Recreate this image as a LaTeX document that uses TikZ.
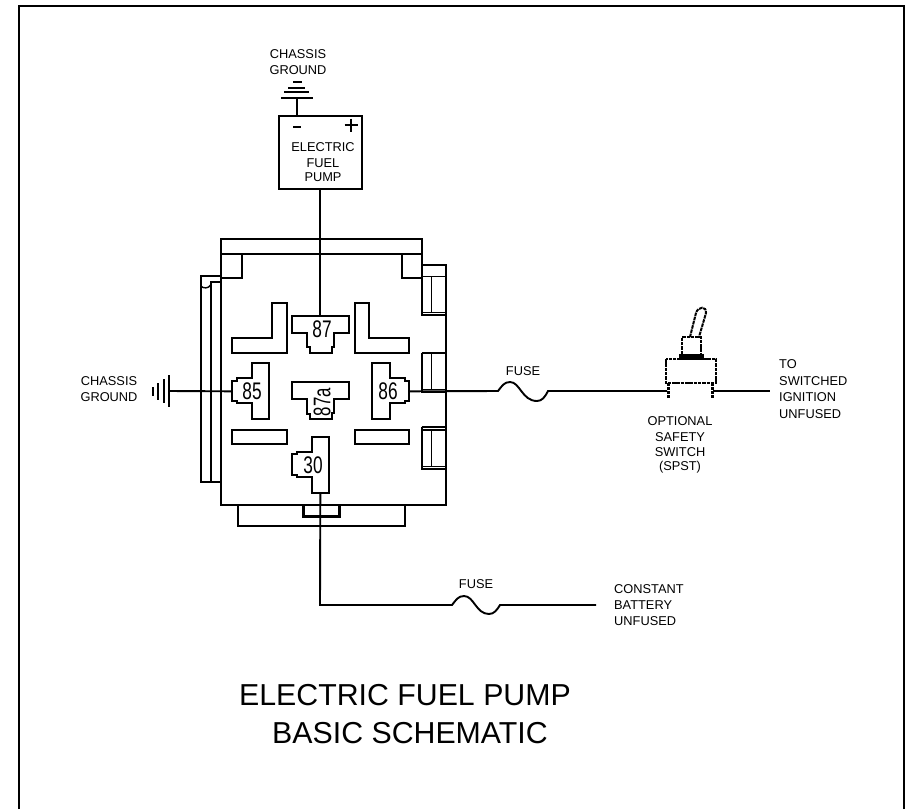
\documentclass[tikz,border=0pt]{standalone}
\usepackage{fontspec}
\setmainfont{Liberation Sans}
\tikzset{
  x=1pt,y=-1pt,
  wire/.style={draw=black,line width=1.9pt},
  outline/.style={draw=black,line width=1.7pt,line join=miter},
  thin line/.style={draw=black,line width=1.4pt},
  swline/.style={draw=black,line width=2pt,dash pattern=on 3.5pt off 0.8pt},
  swpin/.style={draw=black,line width=3.6pt,dash pattern=on 3pt off 1pt},
  label/.style={inner sep=0pt,font=\fontsize{12.8}{12.8}\selectfont,align=center},
  pinlabel/.style={inner sep=0pt,font=\fontsize{24}{24}\selectfont,xscale=0.72,transform shape},
  titletext/.style={inner sep=0pt,font=\fontsize{30.3}{30.3}\selectfont},
  pumpbox/.style={draw=black,line width=2pt,minimum width=83pt,minimum height=73pt,inner sep=0pt}
}
\begin{document}
\begin{tikzpicture}[x=1pt,y=-1pt]
\useasboundingbox (0,0) rectangle (909,809);
% frame
\draw[line width=2.6pt] (19,809) -- (19,6);
\draw[line width=2.6pt] (904,809) -- (904,6);
\draw[line width=1.9pt] (18,6) -- (905,6);

% pump
\node[pumpbox] (pump) at (320.5,152.5) {};
\node[label] (tpump1) at (323,147) {ELECTRIC};
\node[label] (tpump2) at (323,163) {FUEL};
\node[label] (tpump3) at (323,177) {PUMP};
\draw[line width=2.8pt] (293,127) -- (301,127);
\draw[line width=1.9pt] (344.5,125) -- (357.5,125) (351,118.5) -- (351,131.5);
% top ground
\node[label] (tcg1) at (298,54) {CHASSIS};
\node[label] (tcg2) at (298,70) {GROUND};
\coordinate (g1) at (297,98);
\draw[wire] (g1) -- (g1 |- pump.north);
\draw[thin line] (281,98) -- (313,98) (284,92) -- (309,92) (288,88) -- (305,88);
\draw[line width=1.9pt] (293,82) -- (302,82);

% relay housing, in the coordinates of a 3x crop
\begin{scope}[shift={(190,230)},xscale=1/3,yscale=1/3]
\draw[outline] (94,73) rectangle (695,27);
\draw[outline] (94,73) -- (94,824) -- (768,824) -- (768,105) -- (695,105) -- (695,73);
\draw[outline] (155,73) -- (155,145) -- (94,145);
\draw[outline] (635,73) -- (635,145) -- (695,145);
% right tabs
\draw[outline] (695,105) -- (695,255) -- (768,255);
\draw[thin line] (695,140) -- (768,140) (725,140) -- (725,248) (695,248) -- (768,248);
\draw[outline] (695,368) -- (768,368) (695,368) -- (695,485) -- (768,485);
\draw[thin line] (725,368) -- (725,478) (695,478) -- (768,478);
\draw[outline] (695,592) -- (768,592) (695,592) -- (695,718) -- (768,718);
\draw[thin line] (695,600) -- (768,600) (725,600) -- (725,710) (695,710) -- (768,710);
% left rail
\draw[outline] (94,138) -- (32,138) -- (32,755) -- (94,755);
\draw[outline] (94,155) -- (62,155) -- (62,755);
\draw[thin line] (32,168) .. controls (40,176) and (55,176) .. (62,165);
% bottom
\draw[outline] (144,824) -- (144,887) -- (646,887) -- (646,824);
\draw[line width=2.6pt] (340,824) -- (340,860) -- (449,860) -- (449,824);
% blades
\draw[outline] (125,325) -- (245,325) -- (245,218) -- (290,218) -- (290,368) -- (125,368) -- cycle;
\draw[outline] (494,218) -- (538,218) -- (538,325) -- (658,325) -- (658,368) -- (494,368) -- cycle;
\draw[outline] (125,600) rectangle (290,643);
\draw[outline] (494,600) rectangle (658,643);
\draw[outline] (307,257) -- (476,257) -- (476,308) -- (432,308) -- (432,350) -- (425,350) -- (425,368) -- (360,368) -- (360,352) -- (352,352) -- (352,308) -- (307,308) -- cycle;
\draw[outline] (307,457) -- (476,457) -- (476,508) -- (432,508) -- (432,550) -- (425,550) -- (425,568) -- (360,568) -- (360,552) -- (352,552) -- (352,508) -- (307,508) -- cycle;
\draw[outline] (185,400) -- (237,400) -- (237,568) -- (185,568) -- (185,520) -- (140,520) -- (140,514) -- (125,514) -- (125,452) -- (140,452) -- (140,445) -- (185,445) -- cycle;
\draw[outline] (547,400) -- (599,400) -- (599,445) -- (645,445) -- (645,452) -- (658,452) -- (658,514) -- (645,514) -- (645,520) -- (599,520) -- (599,568) -- (547,568) -- cycle;
\draw[outline] (365,622) -- (418,622) -- (418,790) -- (365,790) -- (365,742) -- (320,742) -- (320,736) -- (306,736) -- (306,672) -- (320,672) -- (320,665) -- (365,665) -- cycle;
\coordinate (pin87) at (391,257);
\coordinate (pin85) at (125,484);
\coordinate (pin86) at (658,484);
\coordinate (pin30) at (391,790);
\end{scope}
\node[pinlabel] (l87) at (322,329) {87};
\node[pinlabel] (l85) at (252,391.5) {85};
\node[pinlabel] (l86) at (388,391.5) {86};
\node[pinlabel] (l30) at (313,465) {30};
\node[pinlabel,xscale=1/0.72,yscale=0.7,rotate=90] (l87a) at (322,402) {87a};

% wires
\coordinate (g2) at (169,391);
\draw[wire] (g2) -- (pin85);
\draw[wire] (pump.south -| pin87) -- (pin87);
\draw[thin line] (169,375) -- (169,407) (164,379) -- (164,403) (158,383) -- (158,400);
\draw[line width=1.9pt] (153,387) -- (153,396);
\node[label] (tcg3) at (109,381) {CHASSIS};
\node[label] (tcg4) at (109,397) {GROUND};

% fuse 1 and switch
\coordinate (f1a) at (498,391);
\coordinate (f1b) at (548,391);
\coordinate (swl) at (667,391);
\coordinate (swr) at (713,391);
\coordinate (end1) at (770,391);
\draw[wire] (pin86) -- (f1a) .. controls (502,386) and (504,382) .. (510,382)
  .. controls (520,382) and (522,401) .. (537,401) .. controls (542,401) and (545,397) .. (f1b) -- (swl);
\draw[wire] (swr) -- (end1);
\node[label] (tf1) at (523,371) {FUSE};
\draw[swline] (666,359) rectangle (716,383);
\draw[swpin] (668.5,383) -- (668.5,398);
\draw[swpin] (712.5,383) -- (712.5,398);
\draw[black,fill=black] (679,354) rectangle (703,359);
\draw[swline] (682,354) -- (682,337) -- (701,337) -- (701,354);
\draw[swline] (690,337) -- (696,313) .. controls (698,306) and (707,306) .. (706,313) -- (699,337);
\node[label] (tsw1) at (680,421) {OPTIONAL};
\node[label] (tsw2) at (680,437) {SAFETY};
\node[label] (tsw3) at (680,452) {SWITCH};
\node[label] (tsw4) at (680,467) {(SPST)};
\node[label,anchor=west] (tsi1) at (779,364) {TO};
\node[label,anchor=west] (tsi2) at (779,381) {SWITCHED};
\node[label,anchor=west] (tsi3) at (779,397) {IGNITION};
\node[label,anchor=west] (tsi4) at (779,414) {UNFUSED};

% fuse 2
\coordinate (corner) at (320,605);
\coordinate (f2a) at (452,605);
\coordinate (f2b) at (500,605);
\coordinate (end2) at (596,605);
\draw[wire] (pin30) -- (corner) -- (f2a) .. controls (456,600) and (458,596) .. (464,596)
  .. controls (474,596) and (476,614) .. (489,614) .. controls (494,614) and (497,610) .. (f2b) -- (end2);
\node[label] (tf2) at (476,584) {FUSE};
\node[label,anchor=west] (tb1) at (614,589) {CONSTANT};
\node[label,anchor=west] (tb2) at (614,605) {BATTERY};
\node[label,anchor=west] (tb3) at (614,621) {UNFUSED};

% title
\node[titletext] (title1) at (405,695) {ELECTRIC FUEL PUMP};
\node[titletext] (title2) at (410,733) {BASIC SCHEMATIC};
\end{tikzpicture}
\end{document}
